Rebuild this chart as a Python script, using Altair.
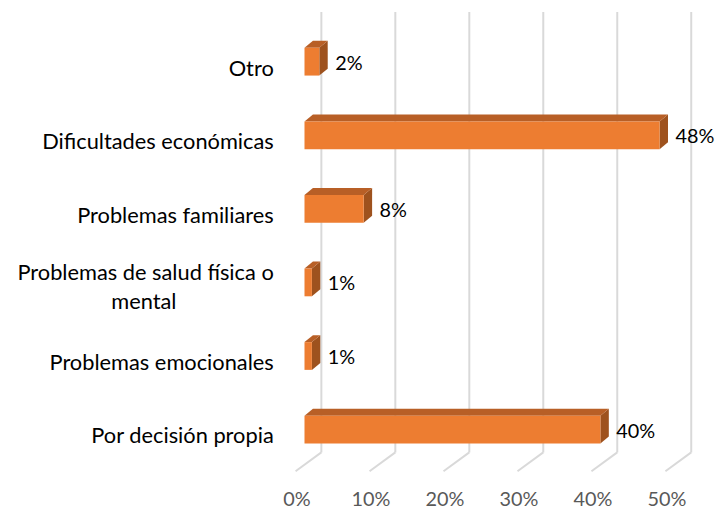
import altair as alt
import pandas as pd

# ---- data (top to bottom as displayed) ----
categories = ["Otro", "Dificultades económicas", "Problemas familiares",
              "Problemas de salud física o mental", "Problemas emocionales",
              "Por decisión propia"]
label_lines = [["Otro"], ["Dificultades económicas"], ["Problemas familiares"],
               ["Problemas de salud física o", "mental"], ["Problemas emocionales"],
               ["Por decisión propia"]]
values = [2, 48, 8, 1, 1, 40]
ticks = [0, 10, 20, 30, 40, 50]

# ---- style / geometry constants (pixels) ----
W, H = 373, 444
STEP = 74.2                      # px per category
PX_PCT = W / 50.0                # px per percent
VMIN = -23 / STEP
VMAX = VMIN + H / STEP
HALF = 14 / STEP                 # half height of front face
DX = 8.5 / PX_PCT                # depth in x (percent units)
DY = 7 / STEP                    # depth in y (category units)
FONT = "Lato"
FS = 22
FS_NUM = 20

n = len(categories)
idx = [n - 1 - i for i in range(n)]

front = pd.DataFrame({"cat": categories, "y": idx, "v": values})
front["x0"] = 0.0
front["ylo"] = front["y"] - HALF
front["yhi"] = front["y"] + HALF
front["lab"] = [f"{v}%" for v in values]

top_rows, side_rows = [], []
for c, i, v in zip(categories, idx, values):
    top_rows.append({"cat": c, "y": i + HALF, "xa": 0.0, "xb": v})
    top_rows.append({"cat": c, "y": i + HALF + DY, "xa": DX, "xb": v + DX})
    side_rows.append({"cat": c, "x": v, "ya": i - HALF, "yb": i + HALF})
    side_rows.append({"cat": c, "x": v + DX, "ya": i - HALF + DY, "yb": i + HALF + DY})
top = pd.DataFrame(top_rows)
side = pd.DataFrame(side_rows)

right_rows, center_rows = [], []
for lines, i in zip(label_lines, idx):
    if len(lines) == 1:
        right_rows.append({"t": lines[0], "y": i - 7 / STEP, "z": 0.0})
    else:
        right_rows.append({"t": lines[0], "y": i + 9 / STEP, "z": 0.0})
        center_rows.append({"t": lines[1], "y": i - 20 / STEP, "z": 0.0})
rlab = pd.DataFrame(right_rows)
clab = pd.DataFrame(center_rows)

grid = pd.DataFrame({"t": ticks, "ymin": [VMIN] * len(ticks)})

xs = alt.Scale(domain=[0, 50], nice=False, zero=False)
ys = alt.Scale(domain=[VMIN, VMAX], nice=False, zero=False)
xax = alt.Axis(values=ticks, labelExpr="datum.value + '%'", domain=False, ticks=False,
               grid=False, tickSize=0, labelOffset=-8, labelPadding=38, title=None,
               labelFlush=False, labelOverlap=False, labelBound=False,
               labelFont=FONT, labelFontSize=FS_NUM, labelColor="#595959")


def X(f):
    return alt.X(f, type="quantitative", scale=xs, axis=xax)


def Y(f):
    return alt.Y(f, type="quantitative", scale=ys, axis=None)


gridlines = alt.Chart(grid).mark_rule(color="#D9D9D9", strokeWidth=2, xOffset=17).encode(
    x=X("t"))
floor = alt.Chart(grid).mark_rule(color="#D9D9D9", strokeWidth=2, xOffset=17,
                                  x2Offset=-9, y2Offset=19).encode(
    x=X("t"), x2="t", y=Y("ymin"), y2="ymin")

side_face = alt.Chart(side).mark_area(orient="vertical", color="#9E521E").encode(
    x=X("x"), y=Y("ya"), y2="yb", detail="cat")
top_face = alt.Chart(top).mark_area(orient="horizontal", color="#B85F26").encode(
    y=Y("y"), x=X("xa"), x2="xb", detail="cat")
front_face = alt.Chart(front).mark_rect(color="#ED7D31").encode(
    x=X("x0"), x2="v", y=Y("ylo"), y2="yhi")

data_labels = alt.Chart(front).mark_text(align="left", baseline="middle", dx=16, dy=2,
                                         font=FONT, fontSize=FS_NUM, color="#000000").encode(
    x=X("v"), y=Y("y"), text="lab")
cat_right = alt.Chart(rlab).mark_text(align="right", baseline="middle", dx=-31,
                                      font=FONT, fontSize=FS, color="#000000").encode(
    x=X("z"), y=Y("y"), text="t")
cat_center = alt.Chart(clab).mark_text(align="center", baseline="middle", dx=-162,
                                       font=FONT, fontSize=FS, color="#000000").encode(
    x=X("z"), y=Y("y"), text="t")

chart = alt.layer(gridlines, floor, side_face, top_face, front_face,
                  data_labels, cat_right, cat_center).properties(
    width=W, height=H,
    autosize=alt.AutoSizeParams(type="none"),
    padding={"left": 299, "top": 2, "right": 44, "bottom": 60},
).configure_view(stroke=None)

chart.save("out.html", embed_options={"renderer": "svg", "actions": False})
